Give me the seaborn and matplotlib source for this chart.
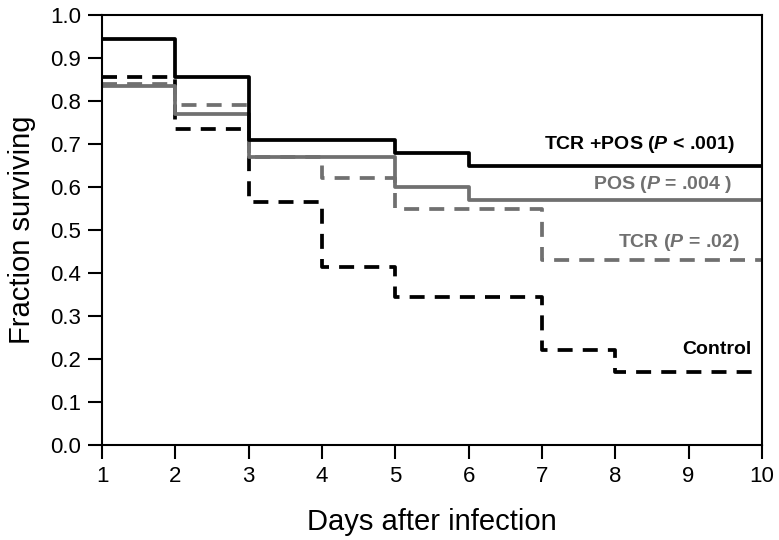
import pandas as pd
import matplotlib
matplotlib.use("Agg")
import matplotlib.pyplot as plt
import seaborn as sns

# Kaplan-Meier style step curves
days = [1, 2, 3, 4, 5, 6, 7, 8, 9, 10]
tcr_pos = [0.945, 0.855, 0.71, 0.71, 0.68, 0.65, 0.65, 0.65, 0.65, 0.65]
pos = [0.835, 0.77, 0.67, 0.67, 0.60, 0.57, 0.57, 0.57, 0.57, 0.57]
tcr = [0.84, 0.79, 0.67, 0.62, 0.55, 0.55, 0.43, 0.43, 0.43, 0.43]
control = [0.857, 0.735, 0.565, 0.415, 0.345, 0.345, 0.22, 0.17, 0.17, 0.17]

groups = ["Control", "TCR", "POS", "TCR+POS"]
series = [control, tcr, pos, tcr_pos]

df = pd.concat(
    [pd.DataFrame({"day": days, "surv": s, "group": g}) for g, s in zip(groups, series)],
    ignore_index=True,
)

sns.set_style("ticks")
plt.rcParams["font.family"] = ["Liberation Sans", "DejaVu Sans"]
plt.rcParams["mathtext.fontset"] = "custom"
plt.rcParams["mathtext.it"] = "Liberation Sans:italic:bold"
plt.rcParams["mathtext.rm"] = "Liberation Sans:bold"

gray = "#707070"
palette = {"Control": "black", "TCR": gray, "POS": gray, "TCR+POS": "black"}
dashes = {"Control": (4, 2.7), "TCR": (4, 2.7), "POS": "", "TCR+POS": ""}

fig = plt.figure(figsize=(7.79, 5.40), dpi=100)
ax = fig.add_axes([0.131, 0.176, 0.847, 0.796])

sns.lineplot(
    data=df, x="day", y="surv", hue="group", style="group",
    palette=palette, dashes=dashes, hue_order=groups, style_order=groups,
    drawstyle="steps-post", linewidth=2.7, legend=False, ax=ax,
)

ax.set_xlim(1, 10)
ax.set_ylim(0, 1.0)
ax.set_xticks(range(1, 11))
ax.set_yticks([i / 10 for i in range(11)])
ax.set_yticklabels([f"{i / 10:.1f}" for i in range(11)])
ax.tick_params(direction="out", length=10, width=1.5, labelsize=16, pad=5,
               color="black", labelcolor="black")
for s in ax.spines.values():
    s.set_linewidth(1.5)
    s.set_color("black")
    s.set_visible(True)

ax.set_xlabel("Days after infection", fontsize=21, labelpad=15, color="black")
ax.set_ylabel("Fraction surviving", fontsize=21, labelpad=10, color="black")

ax.text(9.63, 0.698, r"TCR +POS ($P$ < .001)", ha="right", va="center",
        fontsize=14, fontweight="bold", color="black")
ax.text(9.6, 0.605, r"POS ($P$ = .004 )", ha="right", va="center",
        fontsize=14, fontweight="bold", color=gray)
ax.text(9.7, 0.47, r"TCR ($P$ = .02)", ha="right", va="center",
        fontsize=14, fontweight="bold", color=gray)
ax.text(9.86, 0.221, "Control", ha="right", va="center",
        fontsize=14, fontweight="bold", color="black")

fig.savefig("out.png", dpi=100)
